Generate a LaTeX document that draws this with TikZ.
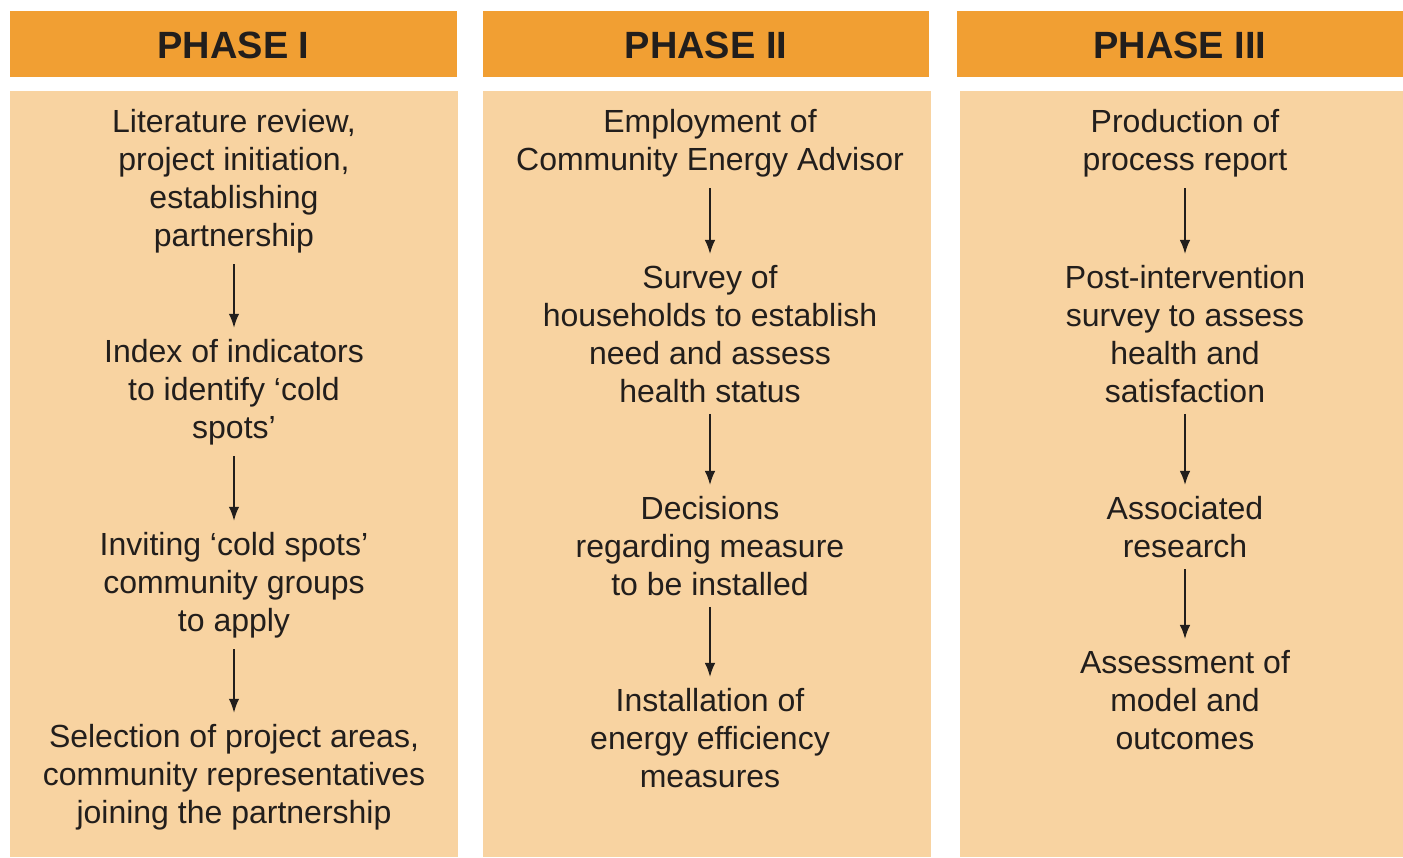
\documentclass[tikz,border=0pt]{standalone}
\usepackage{fontspec}
\setmainfont{Liberation Sans}
\usetikzlibrary{arrows.meta}

\definecolor{phaseorange}{RGB}{241,159,51}
\definecolor{phasepeach}{RGB}{248,211,161}
\definecolor{inkgray}{RGB}{34,30,28}

\begin{document}
\begin{tikzpicture}
    [
        x=0.01cm, y=-0.01cm,
        phasehead/.style={fill=phaseorange},
        phasebody/.style={fill=phasepeach},
        headtext/.style={text=inkgray, font=\fontsize{10.8}{13}\selectfont\bfseries},
        stage/.style={align=center, inner sep=3pt, text=inkgray, font=\fontsize{9.1}{10.8}\selectfont},
        flow/.style={-{Latex[length=4pt,width=3pt]}, line width=0.5pt, inkgray},
    ]
    \useasboundingbox [fill=white] (0,0) rectangle (1403,857);
    
    \foreach \l/\r/\t [count=\i] in {10/457/PHASE I, 483/929/PHASE II, 957/1403/PHASE III} {
        \fill [phasehead] (\l, 11) rectangle (\r, 77);
        \node [headtext] (head\i) at ({(\l+\r)/2}, 45) {\t};
    }
    \foreach \l/\r in {10/458, 483/931, 960/1403} {
        \fill [phasebody] (\l, 91) rectangle (\r, 857);
    }
    
    % phase I
    \node [stage] (lit) at (234, 181) {Literature review,\\ project initiation,\\ establishing\\ partnership};
    \node [stage] (index) at (234, 392) {Index of indicators\\ to identify ‘cold\\ spots’};
    \node [stage] (invite) at (234, 585) {Inviting ‘cold spots’\\ community groups\\ to apply};
    \node [stage] (select) at (234, 777) {Selection of project areas,\\ community representatives\\ joining the partnership};
    
    % phase II
    \node [stage] (employ) at (710, 143) {Employment of\\ Community Energy Advisor};
    \node [stage] (survey) at (710, 334) {Survey of\\ households to establish\\ need and assess\\ health status};
    \node [stage] (decide) at (710, 546) {Decisions\\ regarding measure\\ to be installed};
    \node [stage] (install) at (710, 738) {Installation of\\ energy efficiency\\ measures};
    
    % phase III
    \node [stage] (report) at (1185, 143) {Production of\\ process report};
    \node [stage] (postsurvey) at (1185, 334) {Post-intervention\\ survey to assess\\ health and\\ satisfaction};
    \node [stage] (research) at (1185, 527) {Associated\\ research};
    \node [stage] (assess) at (1185, 700) {Assessment of\\ model and\\ outcomes};
    
    \foreach \a/\b in {lit/index, index/invite, invite/select,
        employ/survey, survey/decide, decide/install,
        report/postsurvey, postsurvey/research, research/assess} {
        \draw [flow] (\a) -- (\b);
    }
    
\end{tikzpicture}
\end{document}
